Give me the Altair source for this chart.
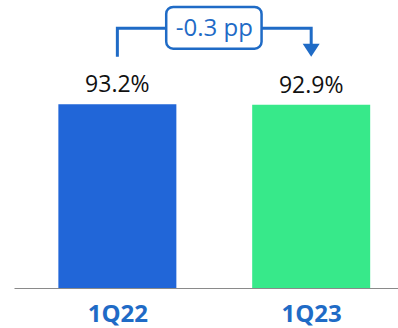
import altair as alt
import pandas as pd

# Quarterly values shown as bars
categories = ["1Q22", "1Q23"]
values = [93.2, 92.9]
bar_colors = ["#2166D8", "#37E98A"]

BLUE = "#1F6BC6"
FONT = "Open Sans"

delta = round(values[1] - values[0], 1)
delta_label = f"{delta:+.1f} pp"

bars_df = pd.DataFrame({
    "idx": list(range(len(categories))),
    "cat": categories,
    "val": values,
    "label": [f"{v:.1f}%" for v in values],
    "color": bar_colors,
})

x_scale = alt.Scale(domain=[-0.5075, 1.4221], nice=False, zero=False)
y_scale = alt.Scale(domain=[0, 146], nice=False)

label_expr = "[" + ",".join(f"'{c}'" for c in categories) + "][datum.value]"

x_axis = alt.Axis(
    values=list(range(len(categories))), labelExpr=label_expr, title=None,
    grid=False, ticks=False, domainColor="#8a8a8a", domainWidth=1.2,
    labelFont=FONT, labelFontWeight="bold", labelFontSize=24,
    labelColor=BLUE, labelPadding=14, labelFlush=False, labelOverlap=False,
)

base = alt.Chart(bars_df)

bars = base.mark_bar(size=118).encode(
    x=alt.X("idx:Q", scale=x_scale, axis=x_axis),
    y=alt.Y("val:Q", scale=y_scale, axis=None),
    color=alt.Color("color:N", scale=None),
)

value_labels = base.mark_text(
    font=FONT, fontSize=23, color="#111111", baseline="alphabetic", dy=-12
).encode(
    x=alt.X("idx:Q", scale=x_scale),
    y=alt.Y("val:Q", scale=y_scale, axis=None),
    text="label:N",
)

# Bracket linking the two bars, placed above the taller one
top = max(values)
y_start = top + 24
y_bar = top + 38.5
mid = (len(categories) - 1) / 2

bracket_df = pd.DataFrame({
    "order": [0, 1, 2, 3],
    "x": [0, 0, 1, 1],
    "y": [y_start, y_bar, y_bar, y_start + 4],
})
bracket = alt.Chart(bracket_df).mark_line(
    color=BLUE, strokeWidth=3, strokeJoin="miter", strokeCap="butt"
).encode(
    x=alt.X("x:Q", scale=x_scale),
    y=alt.Y("y:Q", scale=y_scale, axis=None),
    order="order:Q",
)

arrow_df = pd.DataFrame({"x": [1], "y": [y_start + 3.3]})
arrow = alt.Chart(arrow_df).mark_point(
    shape="M-1,-0.76L0,0.76L1,-0.76Z", filled=True, size=289,
    color=BLUE, opacity=1,
).encode(
    x=alt.X("x:Q", scale=x_scale),
    y=alt.Y("y:Q", scale=y_scale, axis=None),
)

box_df = pd.DataFrame({
    "x": [mid - 0.248], "x2": [mid + 0.244],
    "y": [y_bar - 10.4], "y2": [y_bar + 10.8],
    "text": [delta_label], "xm": [mid], "ym": [y_bar],
})
box = alt.Chart(box_df).mark_rect(
    fill="white", stroke=BLUE, strokeWidth=2.5, cornerRadius=7
).encode(
    x=alt.X("x:Q", scale=x_scale), x2="x2:Q",
    y=alt.Y("y:Q", scale=y_scale, axis=None), y2="y2:Q",
)
box_text = alt.Chart(box_df).mark_text(
    font=FONT, fontSize=24, color=BLUE, baseline="middle", dy=1
).encode(
    x=alt.X("xm:Q", scale=x_scale),
    y=alt.Y("ym:Q", scale=y_scale, axis=None),
    text="text:N",
)

chart = alt.layer(bars, value_labels, bracket, box, box_text, arrow).properties(
    width=384, height=288,
    background="white",
    autosize=alt.AutoSizeParams(type="none"),
    padding={"left": 14, "top": 0, "right": 0, "bottom": 40},
).configure_view(stroke=None)

chart.save("out.html", embed_options={"renderer": "svg", "actions": False})
